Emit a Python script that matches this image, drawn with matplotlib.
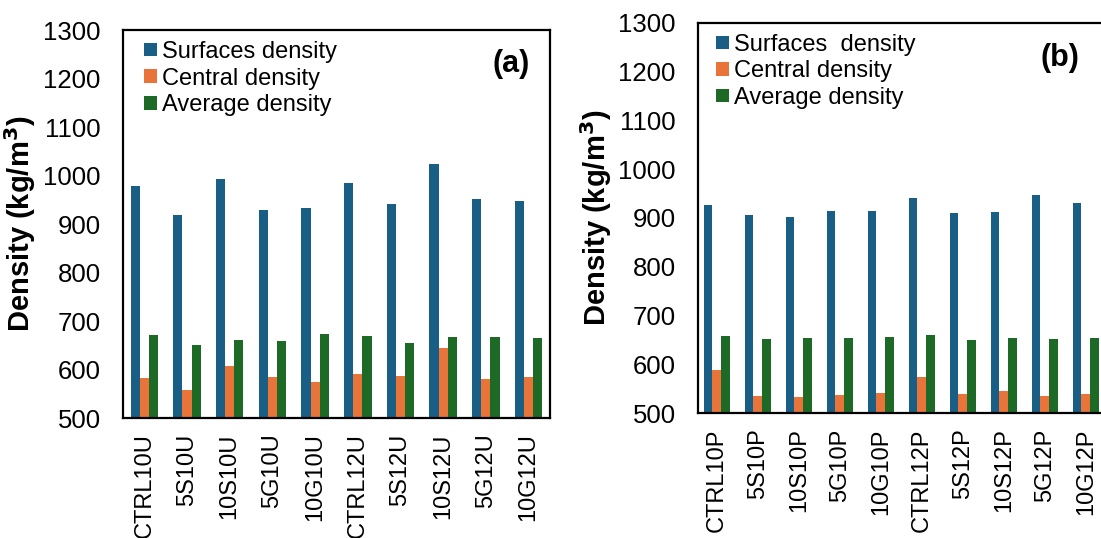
import matplotlib
matplotlib.use('Agg')
import matplotlib.pyplot as plt
import numpy as np

plt.rcParams['font.family'] = ['Liberation Sans', 'DejaVu Sans']

# panel (a) data
labels_u = ['CTRL10U', '5S10U', '10S10U', '5G10U', '10G10U',
            'CTRL12U', '5S12U', '10S12U', '5G12U', '10G12U']
surface_u = [978, 919, 993, 929, 933, 984, 941, 1024, 952, 947]
central_u = [583, 558, 608, 585, 575, 591, 587, 644, 580, 585]
average_u = [671, 650, 661, 659, 674, 669, 654, 667, 667, 666]

# panel (b) data
labels_p = ['CTRL10P', '5S10P', '10S10P', '5G10P', '10G10P',
            'CTRL12P', '5S12P', '10S12P', '5G12P', '10G12P']
surface_p = [926, 905, 901, 914, 914, 940, 910, 912, 946, 931]
central_p = [588, 535, 533, 537, 541, 574, 540, 545, 535, 539]
average_p = [658, 652, 654, 653, 656, 660, 650, 654, 652, 653]

c_blue = '#195E84'
c_orange = '#E8743A'
c_green = '#1D6A27'

fig = plt.figure(figsize=(11.01, 5.38), dpi=100)
ax1 = fig.add_axes([0.1117, 0.2230, 0.3878, 0.7212])
ax2 = fig.add_axes([0.6340, 0.2323, 0.3724, 0.7255])


def draw(ax, labels, surf, cent, avg, names, tag, xlim, leg_anchor, tag_pos):
    x = np.arange(len(labels))
    w = 0.215
    ax.bar(x - w, surf, w, color=c_blue, label=names[0])
    ax.bar(x, cent, w, color=c_orange, label=names[1])
    ax.bar(x + w, avg, w, color=c_green, label=names[2])
    ax.set_ylim(500, 1300)
    ax.set_yticks(range(500, 1301, 100))
    ax.set_xlim(*xlim)
    ax.set_xticks(x)
    ax.set_xticklabels(labels, rotation=90, fontsize=17)
    ax.tick_params(axis='x', length=0, pad=11)
    ax.tick_params(axis='y', length=0, pad=16, labelsize=18.5)
    for s in ax.spines.values():
        s.set_linewidth(1.6)
    ax.set_ylabel('Density (kg/m$^\\mathbf{3}$)', fontsize=21, fontweight='bold')
    ax.legend(loc='upper left', bbox_to_anchor=leg_anchor, frameon=False,
              fontsize=17, borderaxespad=0, borderpad=0, labelspacing=0.2,
              handlelength=0.55, handleheight=0.5, handletextpad=0.2)
    ax.text(tag_pos[0], tag_pos[1], tag, transform=ax.transAxes, fontsize=22,
            fontweight='bold', ha='center', va='center')


draw(ax1, labels_u, surface_u, central_u, average_u,
     ['Surfaces density', 'Central density', 'Average density'], '(a)',
     (-0.5, 9.5), (0.05, 0.972), (0.910, 0.912))
draw(ax2, labels_p, surface_p, central_p, average_p,
     ['Surfaces  density', 'Central density', 'Average density'], '(b)',
     (-0.46, 9.54), (0.045, 0.972), (0.883, 0.91))

ax1.yaxis.set_label_coords(-0.2, 0.5)
ax2.yaxis.set_label_coords(-0.205, 0.5)

fig.savefig('out.png', dpi=100)
